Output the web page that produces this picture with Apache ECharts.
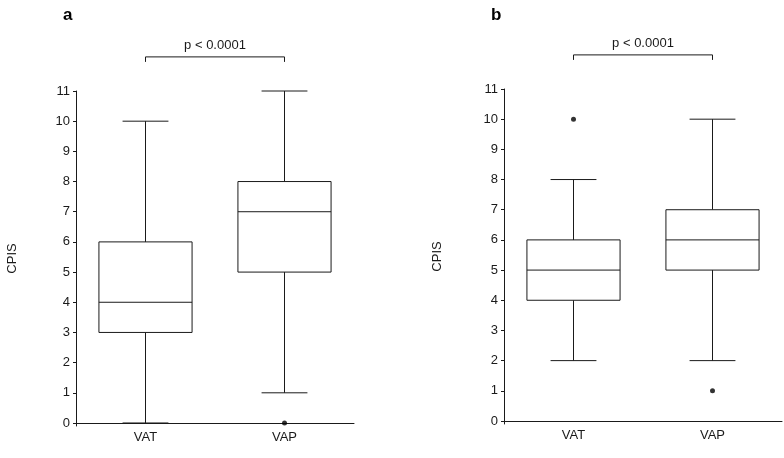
<!DOCTYPE html>
<html><head><meta charset="utf-8">
<script src="https://cdn.jsdelivr.net/npm/echarts@6/dist/echarts.min.js"></script>
<style>html,body{margin:0;padding:0;background:#fff}#c{width:784px;height:458px}</style>
</head><body><div id="c"></div>
<script>
const categories = ['VAT', 'VAP'];
const yTicks = [0,1,2,3,4,5,6,7,8,9,10,11];
// [min, Q1, median, Q3, max]
const boxA = [[0, 3, 4, 6, 10], [1, 5, 7, 8, 11]];
const boxB = [[2, 4, 5, 6, 8], [2, 5, 6, 7, 10]];
const outliersA = [['VAP', 0]];
const outliersB = [['VAT', 10], ['VAP', 1]];
const pLabel = 'p < 0.0001';
const panelLabels = ['a', 'b'];
const yName = 'CPIS';

const INK = '#1a1a1a';
const FONT = 'Liberation Sans, Arial, sans-serif';
const FS = 13;
const BRACKET_Y = 12.13;

function boxRender(params, api) {
  const idx = api.value(0);
  const v = [api.value(1), api.value(2), api.value(3), api.value(4), api.value(5)];
  const band = api.size([1, 0])[0];
  const bw = band * 0.335, cw = band * 0.165;
  const cx = api.coord([idx, 0])[0];
  const y = v.map(t => api.coord([idx, t])[1]);
  const st = { stroke: INK, lineWidth: 1, fill: null };
  return {
    type: 'group',
    children: [
      { type: 'line', shape: { x1: cx, y1: y[0], x2: cx, y2: y[1] }, style: st },
      { type: 'line', shape: { x1: cx, y1: y[3], x2: cx, y2: y[4] }, style: st },
      { type: 'line', shape: { x1: cx - cw, y1: y[0], x2: cx + cw, y2: y[0] }, style: st },
      { type: 'line', shape: { x1: cx - cw, y1: y[4], x2: cx + cw, y2: y[4] }, style: st },
      { type: 'rect', shape: { x: cx - bw, y: y[3], width: 2 * bw, height: y[1] - y[3] }, style: { stroke: INK, lineWidth: 1, fill: '#fff' } },
      { type: 'line', shape: { x1: cx - bw, y1: y[2], x2: cx + bw, y2: y[2] }, style: st }
    ]
  };
}

function bracketRender(params, api) {
  const p0 = api.coord([0, BRACKET_Y]);
  const p1 = api.coord([1, BRACKET_Y]);
  const st = { stroke: INK, lineWidth: 1, fill: null };
  return {
    type: 'group',
    children: [
      { type: 'polyline', shape: { points: [[p0[0], p0[1] + 5], [p0[0], p0[1]], [p1[0], p1[1]], [p1[0], p1[1] + 5]] }, style: st },
      { type: 'text', style: { text: pLabel, x: (p0[0] + p1[0]) / 2, y: p0[1] - 5, align: 'center', verticalAlign: 'bottom', fill: INK, font: FS + 'px ' + FONT } }
    ]
  };
}

const grids = [
  { left: 76, right: 430, top: 91, bottom: 32 },
  { left: 504, right: 2, top: 89, bottom: 34 }
];

function xAxisFor(i) {
  return {
    gridIndex: i, type: 'category', data: categories, boundaryGap: true,
    axisLine: { lineStyle: { color: INK, width: 1 } },
    axisTick: { alignWithLabel: true, length: 3, lineStyle: { color: INK } },
    axisLabel: { color: INK, fontSize: FS, fontFamily: FONT, margin: 5 },
    splitLine: { show: false }
  };
}
function yAxisFor(i, gap) {
  return {
    gridIndex: i, type: 'value', min: -0.1, max: 11,
    name: yName, nameLocation: 'middle', nameRotate: 90, nameGap: gap,
    nameTextStyle: { color: INK, fontSize: FS, fontFamily: FONT },
    axisLine: { show: true, lineStyle: { color: INK, width: 1 } },
    axisTick: { show: true, length: 3, customValues: yTicks, lineStyle: { color: INK } },
    axisLabel: { color: INK, fontSize: FS, fontFamily: FONT, margin: 6, customValues: yTicks },
    splitLine: { show: false }
  };
}

function boxData(arr) { return arr.map((b, i) => [i].concat(b)); }

const option = {
  backgroundColor: '#fff',
  animation: false,
  title: [
    { text: panelLabels[0], left: 58, top: 2, textStyle: { fontSize: 17, fontWeight: 'bold', color: '#000', fontFamily: FONT } },
    { text: panelLabels[1], left: 486, top: 2, textStyle: { fontSize: 17, fontWeight: 'bold', color: '#000', fontFamily: FONT } }
  ],
  grid: grids,
  xAxis: [xAxisFor(0), xAxisFor(1)],
  yAxis: [yAxisFor(0, 57), yAxisFor(1, 60)],
  series: [
    { type: 'custom', xAxisIndex: 0, yAxisIndex: 0, renderItem: boxRender, data: boxData(boxA), clip: false, encode: { x: 0, y: [1, 2, 3, 4, 5] } },
    { type: 'custom', xAxisIndex: 1, yAxisIndex: 1, renderItem: boxRender, data: boxData(boxB), clip: false, encode: { x: 0, y: [1, 2, 3, 4, 5] } },
    { type: 'scatter', xAxisIndex: 0, yAxisIndex: 0, data: outliersA, symbol: 'circle', symbolSize: 5, itemStyle: { color: '#000' }, z: 5 },
    { type: 'scatter', xAxisIndex: 1, yAxisIndex: 1, data: outliersB, symbol: 'circle', symbolSize: 5, itemStyle: { color: '#000' }, z: 5 },
    { type: 'custom', xAxisIndex: 0, yAxisIndex: 0, renderItem: bracketRender, data: [[0]], clip: false, silent: true },
    { type: 'custom', xAxisIndex: 1, yAxisIndex: 1, renderItem: bracketRender, data: [[0]], clip: false, silent: true }
  ]
};
const chart = echarts.init(document.getElementById('c'), null, { renderer: 'canvas' });
chart.setOption(option);
</script>
</body></html>
